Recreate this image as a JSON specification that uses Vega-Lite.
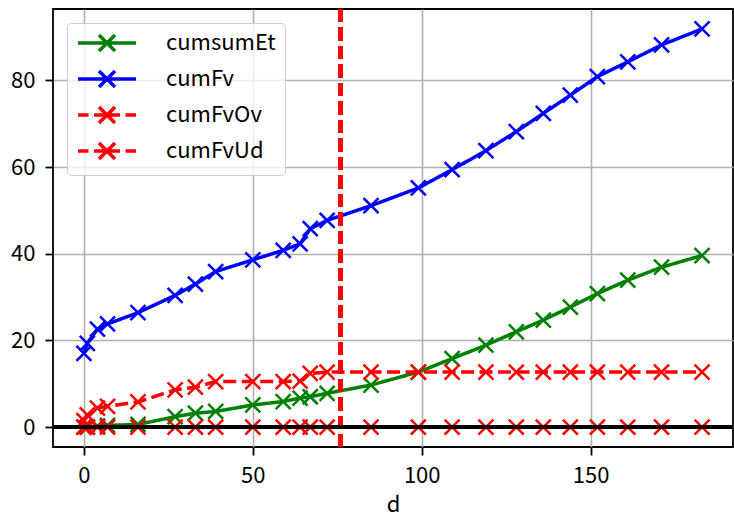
{
  "$schema": "https://vega.github.io/schema/vega-lite/v6.json",
  "autosize": {"type": "none"},
  "width": 680,
  "height": 438,
  "padding": {"left": 53, "top": 9, "right": 1, "bottom": 70},
  "background": "white",
  "config": {
    "font": "Noto Sans CJK JP",
    "view": {"stroke": "black", "strokeWidth": 1.8},
    "axis": {
      "grid": true, "gridColor": "#b0b0b0", "gridWidth": 1.6,
      "domain": false,
      "tickColor": "black", "tickSize": 8, "tickWidth": 1.8,
      "labelFont": "Noto Sans CJK JP", "labelFontSize": 22, "labelColor": "black", "labelPadding": 10,
      "titleFont": "Noto Sans CJK JP", "titleFontSize": 22, "titleFontWeight": "normal", "titleColor": "black"
    }
  },
  "data": {"values": [
    {"d":0,"s":"cumsumEt","v":0},{"d":1,"s":"cumsumEt","v":0},{"d":4,"s":"cumsumEt","v":0.2},{"d":7,"s":"cumsumEt","v":0.4},{"d":16,"s":"cumsumEt","v":0.6},{"d":27,"s":"cumsumEt","v":2.4},{"d":33,"s":"cumsumEt","v":3.2},{"d":39,"s":"cumsumEt","v":3.6},{"d":50,"s":"cumsumEt","v":5.1},{"d":59,"s":"cumsumEt","v":5.9},{"d":64,"s":"cumsumEt","v":6.7},{"d":67,"s":"cumsumEt","v":7.0},{"d":72,"s":"cumsumEt","v":7.8},{"d":85,"s":"cumsumEt","v":9.7},{"d":99,"s":"cumsumEt","v":12.7},{"d":109,"s":"cumsumEt","v":15.8},{"d":119,"s":"cumsumEt","v":18.9},{"d":128,"s":"cumsumEt","v":22.0},{"d":136,"s":"cumsumEt","v":24.7},{"d":144,"s":"cumsumEt","v":27.7},{"d":152,"s":"cumsumEt","v":30.8},{"d":161,"s":"cumsumEt","v":33.9},{"d":171,"s":"cumsumEt","v":36.9},{"d":183,"s":"cumsumEt","v":39.6},
    {"d":0,"s":"cumFv","v":17.0},{"d":1,"s":"cumFv","v":19.3},{"d":4,"s":"cumFv","v":22.6},{"d":7,"s":"cumFv","v":23.8},{"d":16,"s":"cumFv","v":26.4},{"d":27,"s":"cumFv","v":30.4},{"d":33,"s":"cumFv","v":33.0},{"d":39,"s":"cumFv","v":35.9},{"d":50,"s":"cumFv","v":38.6},{"d":59,"s":"cumFv","v":40.8},{"d":64,"s":"cumFv","v":42.3},{"d":67,"s":"cumFv","v":45.8},{"d":72,"s":"cumFv","v":47.7},{"d":85,"s":"cumFv","v":51.1},{"d":99,"s":"cumFv","v":55.2},{"d":109,"s":"cumFv","v":59.4},{"d":119,"s":"cumFv","v":63.8},{"d":128,"s":"cumFv","v":68.2},{"d":136,"s":"cumFv","v":72.4},{"d":144,"s":"cumFv","v":76.6},{"d":152,"s":"cumFv","v":80.9},{"d":161,"s":"cumFv","v":84.3},{"d":171,"s":"cumFv","v":88.2},{"d":183,"s":"cumFv","v":91.9},
    {"d":0,"s":"cumFvOv","v":1.5},{"d":1,"s":"cumFvOv","v":2.8},{"d":4,"s":"cumFvOv","v":4.4},{"d":7,"s":"cumFvOv","v":4.8},{"d":16,"s":"cumFvOv","v":5.8},{"d":27,"s":"cumFvOv","v":8.6},{"d":33,"s":"cumFvOv","v":9.2},{"d":39,"s":"cumFvOv","v":10.5},{"d":50,"s":"cumFvOv","v":10.5},{"d":59,"s":"cumFvOv","v":10.5},{"d":64,"s":"cumFvOv","v":10.6},{"d":67,"s":"cumFvOv","v":12.4},{"d":72,"s":"cumFvOv","v":12.7},{"d":85,"s":"cumFvOv","v":12.7},{"d":99,"s":"cumFvOv","v":12.7},{"d":109,"s":"cumFvOv","v":12.7},{"d":119,"s":"cumFvOv","v":12.7},{"d":128,"s":"cumFvOv","v":12.7},{"d":136,"s":"cumFvOv","v":12.7},{"d":144,"s":"cumFvOv","v":12.7},{"d":152,"s":"cumFvOv","v":12.7},{"d":161,"s":"cumFvOv","v":12.7},{"d":171,"s":"cumFvOv","v":12.7},{"d":183,"s":"cumFvOv","v":12.7},
    {"d":0,"s":"cumFvUd","v":0},{"d":1,"s":"cumFvUd","v":0},{"d":4,"s":"cumFvUd","v":0},{"d":7,"s":"cumFvUd","v":0},{"d":16,"s":"cumFvUd","v":0},{"d":27,"s":"cumFvUd","v":0},{"d":33,"s":"cumFvUd","v":0},{"d":39,"s":"cumFvUd","v":0},{"d":50,"s":"cumFvUd","v":0},{"d":59,"s":"cumFvUd","v":0},{"d":64,"s":"cumFvUd","v":0},{"d":67,"s":"cumFvUd","v":0},{"d":72,"s":"cumFvUd","v":0},{"d":85,"s":"cumFvUd","v":0},{"d":99,"s":"cumFvUd","v":0},{"d":109,"s":"cumFvUd","v":0},{"d":119,"s":"cumFvUd","v":0},{"d":128,"s":"cumFvUd","v":0},{"d":136,"s":"cumFvUd","v":0},{"d":144,"s":"cumFvUd","v":0},{"d":152,"s":"cumFvUd","v":0},{"d":161,"s":"cumFvUd","v":0},{"d":171,"s":"cumFvUd","v":0},{"d":183,"s":"cumFvUd","v":0}
  ]},
  "encoding": {
    "x": {"field": "d", "type": "quantitative", "title": "d",
      "scale": {"domain": [-9.15, 192.15], "nice": false, "zero": false},
      "axis": {"values": [0, 50, 100, 150], "titlePadding": 8}},
    "y": {"field": "v", "type": "quantitative", "title": null,
      "scale": {"domain": [-4.6, 96.5], "nice": false, "zero": false},
      "axis": {"values": [0, 20, 40, 60, 80]}}
  },
  "layer": [
    {
      "mark": {"type": "line", "strokeWidth": 3.5},
      "encoding": {
        "color": {"field": "s", "type": "nominal",
          "scale": {"domain": ["cumsumEt", "cumFv", "cumFvOv", "cumFvUd"], "range": ["#008000", "#0000ff", "#ff0000", "#ff0000"]},
          "legend": {
            "title": null, "orient": "none", "legendX": 14, "legendY": 14,
            "symbolType": "M0,0L-3.625,0M0,0L3.625,0M0,0L1,1M0,0L-1,-1M0,0L1,-1M0,0L-1,1",
            "symbolSize": 256, "symbolStrokeWidth": 3.5, "symbolFillColor": "transparent",
            "symbolOffset": 20, "labelOffset": 48,
            "labelFont": "Noto Sans CJK JP", "labelFontSize": 22, "labelColor": "black",
            "rowPadding": 6, "padding": 9,
            "fillColor": "rgba(255,255,255,0.8)", "strokeColor": "#cccccc", "cornerRadius": 4
          }},
        "strokeDash": {"field": "s", "type": "nominal",
          "scale": {"domain": ["cumsumEt", "cumFv", "cumFvOv", "cumFvUd"], "range": [[1, 0], [1, 0], [13, 5.5], [13, 5.5]]},
          "legend": {
            "title": null, "orient": "none", "legendX": 14, "legendY": 14,
            "symbolType": "M0,0L-3.625,0M0,0L3.625,0M0,0L1,1M0,0L-1,-1M0,0L1,-1M0,0L-1,1",
            "symbolSize": 256, "symbolStrokeWidth": 3.5, "symbolFillColor": "transparent",
            "symbolOffset": 20, "labelOffset": 48,
            "labelFont": "Noto Sans CJK JP", "labelFontSize": 22, "labelColor": "black",
            "rowPadding": 6, "padding": 9,
            "fillColor": "rgba(255,255,255,0.8)", "strokeColor": "#cccccc", "cornerRadius": 4
          }}
      }
    },
    {
      "mark": {"type": "point", "shape": "M-1,-1L1,1M-1,1L1,-1", "filled": false, "size": 225, "strokeWidth": 2.5, "opacity": 1},
      "encoding": {
        "color": {"field": "s", "type": "nominal", "legend": null}
      }
    },
    {
      "mark": {"type": "rule", "color": "#ff0000", "strokeWidth": 3.5, "strokeDash": [13, 5.5]},
      "encoding": {"x": {"datum": 76}, "y": null}
    },
    {
      "mark": {"type": "rule", "color": "black", "strokeWidth": 4},
      "encoding": {"y": {"datum": 0}, "x": null}
    }
  ]
}
